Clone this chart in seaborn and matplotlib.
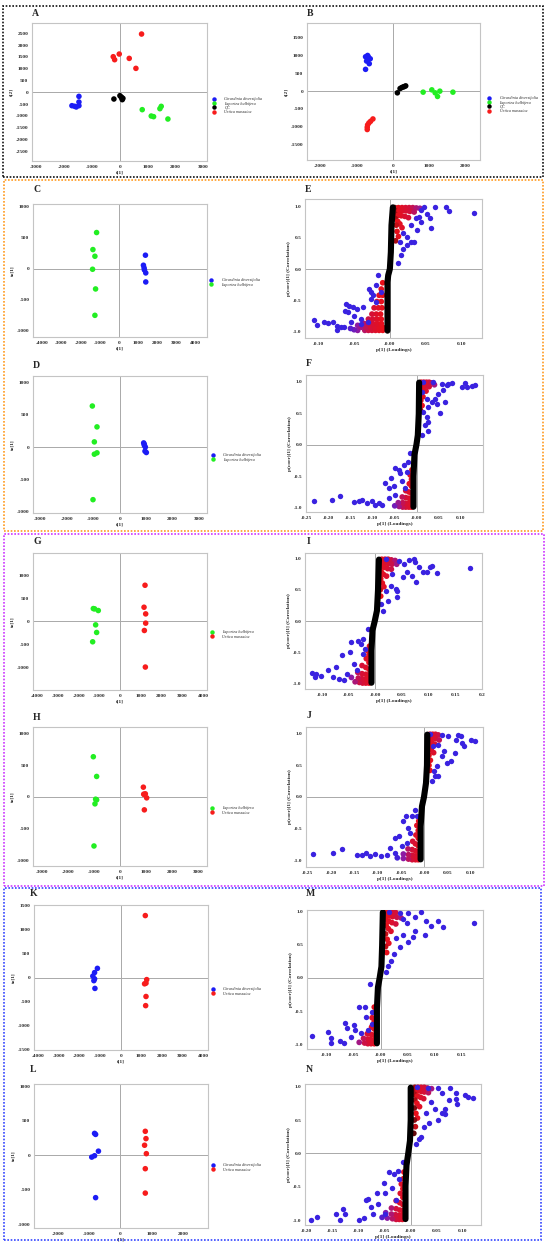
import numpy as np
import pandas as pd
import matplotlib
matplotlib.use("Agg")
import matplotlib.pyplot as plt
import seaborn as sns
from matplotlib.colors import LinearSegmentedColormap
from matplotlib.lines import Line2D
from matplotlib.patches import Rectangle

GIR = "Girardinia diversifolia"
LAP = "Laportea bulbifera"
QC = "QC"
URT = "Urtica massaica"

# ---------------- score plots ----------------
A_GIR_X = [-1473, -1473, -1473, -1570, -1725, -1630]
A_GIR_Y = [-170, -410, -565, -620, -565, -590]
A_LAP_X = [802, 1126, 1210, 1437, 1485, 1725]
A_LAP_Y = [-734, -1003, -1031, -692, -593, -1130]
A_QC_X = [-216, 0, 48, 108, 84, 60]
A_QC_Y = [-282, -141, -198, -254, -310, -226]
A_URT_X = [778, -240, -190, -24, 335, 575]
A_URT_Y = [2472, 1511, 1384, 1624, 1440, 1017]

B_GIR_X = [-756, -682, -627, -728, -654, -756, -700]
B_GIR_Y = [968, 968, 912, 847, 773, 614, 1005]
B_LAP_X = [830, 1069, 1161, 1226, 1290, 1650]
B_LAP_Y = [-28, 37, -47, -149, 0, -28]
B_QC_X = [120, 194, 240, 286, 350, 313]
B_QC_Y = [-47, 74, 102, 121, 149, 130]
B_URT_X = [-710, -710, -700, -664, -617, -553]
B_URT_Y = [-1080, -1015, -950, -894, -847, -782]

C_GIR_X = [1380, 1275, 1310, 1327, 1397, 1397]
C_GIR_Y = [216, 54, 11, -22, -70, -216]
C_LAP_X = [-1170, -1362, -1258, -1380, -1223, -1258]
C_LAP_Y = [582, 307, 199, -11, -329, -755]

D_GIR_X = [908, 933, 971, 958, 1009, 933]
D_GIR_Y = [64, 27, 0, -64, -85, 42]
D_LAP_X = [-1034, -858, -958, -858, -958, -1009]
D_LAP_Y = [637, 313, 80, -90, -111, -817]

G_LAP_X = [-1296, -1232, -1056, -1184, -1136, -1328]
G_LAP_Y = [275, 268, 232, -80, -246, -449]
G_URT_X = [1200, 1152, 1232, 1232, 1168, 1216]
G_URT_Y = [783, 304, 159, -43, -203, -1000]

H_LAP_X = [-1016, -889, -928, -889, -953, -991]
H_LAP_Y = [635, 323, -37, -48, -111, -778]
H_URT_X = [902, 940, 978, 1029, 940, 915]
H_URT_Y = [153, 37, 48, -16, -206, 42]

K_GIR_X = [-1128, -1265, -1350, -1265, -1299, -1248]
K_GIR_Y = [191, 103, 29, -29, -66, -228]
K_URT_X = [1197, 1265, 1162, 1231, 1231, 1214]
K_URT_Y = [1294, -44, -132, -118, -397, -588]

L_GIR_X = [-823, -789, -699, -823, -913, -789]
L_GIR_Y = [314, 299, 56, -10, -30, -618]
L_URT_X = [800, 822, 777, 834, 800, 800]
L_URT_Y = [344, 238, 142, 20, -198, -552]

# ---------------- S-plots: p[1] vs p(corr)[1] ----------------
E_BAND = [(0.0042, 0.985), (0.0023, 0.70), (0.0014, 0.27), (0.0, 0.0),
          (-0.0023, -0.10), (-0.0033, -0.21), (-0.0033, -0.985)]
E_CORE = [(0.007, 0.98), (0.012, 0.98), (0.017, 0.98), (0.022, 0.98), (0.027, 0.98),
          (0.032, 0.98), (0.037, 0.975), (0.042, 0.97), (0.008, 0.93), (0.013, 0.93),
          (0.018, 0.93), (0.023, 0.93), (0.028, 0.92), (0.034, 0.91), (0.008, 0.87),
          (0.012, 0.86), (0.016, 0.85), (0.021, 0.84), (0.026, 0.82), (0.008, 0.80),
          (0.011, 0.76), (0.014, 0.72), (0.017, 0.66), (0.009, 0.70), (0.010, 0.60),
          (0.012, 0.52), (0.008, 0.45),
          (-0.045, -0.98), (-0.035, -0.98), (-0.030, -0.98), (-0.025, -0.98), (-0.020, -0.98),
          (-0.015, -0.98), (-0.010, -0.98), (-0.050, -0.97), (-0.055, -0.95), (-0.045, -0.90),
          (-0.040, -0.93), (-0.033, -0.93), (-0.027, -0.93), (-0.021, -0.93), (-0.015, -0.93),
          (-0.010, -0.93), (-0.036, -0.87), (-0.030, -0.87), (-0.024, -0.87), (-0.018, -0.87),
          (-0.012, -0.87), (-0.030, -0.80), (-0.024, -0.80), (-0.018, -0.80), (-0.012, -0.80),
          (-0.025, -0.72), (-0.019, -0.72), (-0.013, -0.72), (-0.022, -0.62), (-0.016, -0.62),
          (-0.011, -0.62), (-0.018, -0.52), (-0.012, -0.52), (-0.015, -0.42), (-0.010, -0.42),
          (-0.012, -0.32), (-0.010, -0.22)]
E_EDGE = [(0.048, 0.995), (0.063, 0.995), (0.079, 0.995), (0.082, 0.925), (0.117, 0.888),
          (0.0525, 0.872), (0.056, 0.807), (0.057, 0.658), (0.043, 0.754), (0.0386, 0.62),
          (0.034, 0.433), (0.029, 0.433), (0.024, 0.38), (0.0177, 0.326), (0.0116, 0.10),
          (0.0153, 0.22), (0.0246, 0.513), (0.019, 0.567), (0.0135, 0.433), (0.029, 0.70),
          (0.036, 0.807), (0.043, 0.94), (0.041, 0.83),
          (-0.1056, -0.807), (-0.1019, -0.893), (-0.0926, -0.85), (-0.087, -0.861),
          (-0.080, -0.85), (-0.074, -0.904), (-0.074, -0.968), (-0.068, -0.93),
          (-0.061, -0.556), (-0.062, -0.663), (-0.0567, -0.583), (-0.058, -0.69),
          (-0.052, -0.61), (-0.0498, -0.743), (-0.046, -0.636), (-0.038, -0.61),
          (-0.0288, -0.316), (-0.0265, -0.369), (-0.0242, -0.422), (-0.0265, -0.476),
          (-0.0195, -0.262), (-0.0163, -0.10), (-0.0126, -0.369), (-0.0195, -0.529),
          (-0.031, -0.85), (-0.040, -0.877), (-0.064, -0.93), (-0.054, -0.85), (-0.041, -0.797)]

F_BAND = [(0.0053, 0.985), (0.0045, 0.49), (0.0023, 0.15), (-0.0008, 0.0),
          (-0.0053, -0.16), (-0.0075, -0.5), (-0.0075, -0.985)]
F_CORE = [(0.010, 0.99), (0.016, 0.99), (0.022, 0.99), (0.028, 0.99), (0.034, 0.98),
          (0.010, 0.94), (0.016, 0.94), (0.022, 0.93), (0.028, 0.92), (0.040, 0.95),
          (0.010, 0.88), (0.015, 0.87), (0.021, 0.85), (0.010, 0.80), (0.014, 0.76),
          (0.009, 0.70), (0.012, 0.62), (0.008, 0.55),
          (-0.012, -0.99), (-0.018, -0.99), (-0.025, -0.99), (-0.032, -0.99), (-0.040, -0.98),
          (-0.050, -0.97), (-0.012, -0.93), (-0.018, -0.93), (-0.025, -0.93), (-0.032, -0.92),
          (-0.042, -0.92), (-0.012, -0.86), (-0.018, -0.85), (-0.025, -0.84), (-0.033, -0.83),
          (-0.012, -0.77), (-0.018, -0.75), (-0.025, -0.73), (-0.012, -0.66), (-0.017, -0.62),
          (-0.012, -0.55), (-0.015, -0.48), (-0.011, -0.40)]
F_EDGE = [(0.015, 0.995), (0.0376, 0.995), (0.056, 0.968), (0.0714, 0.968), (0.079, 0.984),
          (0.1015, 0.915), (0.109, 0.984), (0.113, 0.915), (0.1316, 0.942), (0.124, 0.931),
          (0.0677, 0.942), (0.060, 0.863), (0.064, 0.679), (0.049, 0.81), (0.045, 0.652),
          (0.0526, 0.495), (0.034, 0.679), (0.026, 0.60), (0.026, 0.363), (0.0226, 0.442),
          (0.026, 0.216), (0.0188, 0.31), (0.0113, 0.153), (0.015, 0.52), (0.0226, 0.73),
          (0.041, 0.73), (0.0113, 0.836),
          (-0.233, -0.90), (-0.192, -0.884), (-0.173, -0.82), (-0.142, -0.91), (-0.132, -0.90),
          (-0.123, -0.884), (-0.113, -0.926), (-0.1015, -0.90), (-0.086, -0.926),
          (-0.073, -0.61), (-0.064, -0.689), (-0.058, -0.531), (-0.049, -0.373),
          (-0.041, -0.40), (-0.0376, -0.452), (-0.030, -0.32), (-0.0226, -0.426),
          (-0.0188, -0.268), (-0.049, -0.794), (-0.064, -0.847), (-0.0526, -0.663),
          (-0.034, -0.584), (-0.026, -0.689), (-0.094, -0.952), (-0.079, -0.963), (-0.015, -0.137)]

I_BAND = [(0.0067, 0.985), (0.0049, 0.49), (0.003, 0.17), (-0.0012, 0.0),
          (-0.0055, -0.15), (-0.0073, -0.47), (-0.0073, -0.985)]
I_CORE = [(0.012, 0.99), (0.018, 0.99), (0.024, 0.99), (0.030, 0.98), (0.037, 0.97),
          (0.012, 0.94), (0.018, 0.93), (0.024, 0.92), (0.031, 0.91), (0.040, 0.91),
          (0.012, 0.87), (0.017, 0.86), (0.023, 0.84), (0.030, 0.83), (0.011, 0.79),
          (0.015, 0.75), (0.021, 0.72), (0.010, 0.68), (0.013, 0.61), (0.016, 0.55),
          (0.009, 0.50), (0.010, 0.40),
          (-0.012, -0.99), (-0.018, -0.99), (-0.024, -0.99), (-0.030, -0.98), (-0.038, -0.97),
          (-0.012, -0.93), (-0.018, -0.93), (-0.025, -0.92), (-0.032, -0.91), (-0.045, -0.90),
          (-0.012, -0.86), (-0.018, -0.85), (-0.025, -0.84), (-0.033, -0.82), (-0.012, -0.77),
          (-0.018, -0.74), (-0.025, -0.71), (-0.012, -0.66), (-0.017, -0.60), (-0.012, -0.54),
          (-0.015, -0.47), (-0.011, -0.40)]
I_EDGE = [(0.020, 0.995), (0.0445, 0.968), (0.054, 0.915), (0.063, 0.979), (0.075, 0.941),
          (0.081, 0.862), (0.072, 0.995), (0.090, 0.782), (0.096, 0.782), (0.1025, 0.872),
          (0.1055, 0.888), (0.1165, 0.766), (0.1775, 0.846), (0.076, 0.622), (0.069, 0.729),
          (0.060, 0.782), (0.052, 0.702), (0.0384, 0.516), (0.0415, 0.479), (0.040, 0.383),
          (0.023, 0.33), (0.020, 0.489), (0.029, 0.569), (0.032, 0.755), (0.014, 0.17),
          (0.011, 0.277),
          (-0.119, -0.83), (-0.114, -0.894), (-0.111, -0.84), (-0.102, -0.878), (-0.088, -0.777),
          (-0.080, -0.894), (-0.074, -0.734), (-0.068, -0.92), (-0.062, -0.548), (-0.048, -0.495),
          (-0.046, -0.335), (-0.041, -0.68), (-0.032, -0.31), (-0.0275, -0.362),
          (-0.0226, -0.282), (-0.0195, -0.441), (-0.0134, -0.122), (-0.0226, -0.521),
          (-0.053, -0.84), (-0.035, -0.787), (-0.059, -0.947)]

J_BAND = [(0.0064, 0.985), (0.0057, 0.50), (0.0036, 0.22), (-0.0007, 0.0),
          (-0.005, -0.147), (-0.0079, -0.463), (-0.0079, -0.985)]
J_CORE = [(0.012, 0.99), (0.018, 0.99), (0.024, 0.99), (0.030, 0.98), (0.012, 0.94),
          (0.018, 0.93), (0.024, 0.92), (0.032, 0.90), (0.012, 0.87), (0.017, 0.85),
          (0.023, 0.83), (0.011, 0.79), (0.015, 0.74), (0.020, 0.70), (0.010, 0.66),
          (0.013, 0.58), (0.010, 0.50), (0.012, 0.42),
          (-0.013, -0.99), (-0.019, -0.99), (-0.026, -0.99), (-0.034, -0.98), (-0.045, -0.97),
          (-0.058, -0.96), (-0.013, -0.93), (-0.019, -0.93), (-0.026, -0.92), (-0.034, -0.91),
          (-0.045, -0.90), (-0.013, -0.86), (-0.019, -0.85), (-0.026, -0.83), (-0.035, -0.82),
          (-0.013, -0.77), (-0.019, -0.74), (-0.025, -0.70), (-0.013, -0.65), (-0.018, -0.60),
          (-0.013, -0.53), (-0.016, -0.45), (-0.012, -0.38)]
J_EDGE = [(0.012, 1.0), (0.037, 0.984), (0.0514, 0.957), (0.0714, 0.984), (0.0785, 0.968),
          (0.069, 0.894), (0.080, 0.852), (0.0857, 0.80), (0.101, 0.905), (0.1086, 0.878),
          (0.0657, 0.695), (0.057, 0.563), (0.043, 0.721), (0.048, 0.537), (0.037, 0.642),
          (0.0264, 0.484), (0.030, 0.326), (0.0229, 0.326), (0.0157, 0.247), (0.0214, 0.405),
          (0.019, 0.80), (0.030, 0.826),
          (-0.238, -0.895), (-0.195, -0.884), (-0.177, -0.82), (-0.145, -0.91), (-0.134, -0.91),
          (-0.126, -0.884), (-0.116, -0.926), (-0.106, -0.90), (-0.093, -0.936), (-0.081, -0.91),
          (-0.0736, -0.805), (-0.063, -0.647), (-0.054, -0.62), (-0.045, -0.384),
          (-0.040, -0.305), (-0.034, -0.489), (-0.031, -0.568), (-0.027, -0.305),
          (-0.020, -0.20), (-0.0164, -0.305), (-0.0486, -0.778), (-0.063, -0.884), (-0.038, -0.726)]

M_BAND = [(0.0039, 0.985), (0.0026, 0.49), (0.0013, 0.17), (-0.002, 0.0),
          (-0.0052, -0.143), (-0.0071, -0.46), (-0.0071, -0.985)]
M_CORE = [(0.010, 0.99), (0.016, 0.99), (0.022, 0.99), (0.028, 0.98), (0.010, 0.94),
          (0.016, 0.93), (0.022, 0.92), (0.030, 0.91), (0.038, 0.90), (0.010, 0.87),
          (0.015, 0.85), (0.021, 0.83), (0.028, 0.81), (0.010, 0.79), (0.014, 0.74),
          (0.019, 0.70), (0.009, 0.66), (0.012, 0.58), (0.015, 0.52), (0.009, 0.47),
          (0.011, 0.38),
          (-0.012, -0.99), (-0.018, -0.99), (-0.024, -0.99), (-0.030, -0.98), (-0.040, -0.97),
          (-0.012, -0.93), (-0.018, -0.93), (-0.024, -0.92), (-0.032, -0.91), (-0.012, -0.86),
          (-0.018, -0.85), (-0.025, -0.84), (-0.012, -0.77), (-0.017, -0.74), (-0.012, -0.66),
          (-0.016, -0.60), (-0.011, -0.52), (-0.012, -0.44)]
M_EDGE = [(0.0156, 0.995), (0.035, 0.979), (0.0513, 0.968), (0.064, 0.915), (0.074, 0.99),
          (0.084, 0.862), (0.0935, 0.783), (0.1065, 0.862), (0.116, 0.757), (0.173, 0.82),
          (0.082, 0.651), (0.060, 0.608), (0.0513, 0.545), (0.035, 0.466), (0.0254, 0.36),
          (0.0189, 0.254), (0.0143, 0.175), (0.0416, 0.651), (0.0286, 0.598), (0.064, 0.704),
          (0.048, 0.82), (0.0416, 0.889), (0.0091, 0.095),
          (-0.127, -0.873), (-0.098, -0.82), (-0.092, -0.91), (-0.092, -0.979), (-0.075, -0.952),
          (-0.069, -0.979), (-0.066, -0.672), (-0.0624, -0.751), (-0.049, -0.714),
          (-0.048, -0.778), (-0.0397, -0.434), (-0.030, -0.434), (-0.020, -0.09),
          (-0.0169, -0.698), (-0.0267, -0.592), (-0.0364, -0.83), (-0.056, -0.883),
          (-0.0234, -0.778), (-0.0169, -0.513)]

N_BAND = [(0.0, 0.985), (0.0, 0.50), (-0.0014, 0.19), (-0.0047, 0.0),
          (-0.0081, -0.179), (-0.010, -0.49), (-0.010, -0.985)]
N_CORE = [(0.008, 0.99), (0.014, 0.99), (0.020, 0.99), (0.026, 0.99), (0.032, 0.98),
          (0.040, 0.97), (0.008, 0.94), (0.014, 0.94), (0.020, 0.93), (0.026, 0.92),
          (0.034, 0.91), (0.008, 0.88), (0.013, 0.86), (0.019, 0.84), (0.025, 0.82),
          (0.008, 0.80), (0.012, 0.75), (0.017, 0.70), (0.007, 0.68), (0.010, 0.60),
          (0.013, 0.53), (0.007, 0.50), (0.009, 0.40), (0.006, 0.30),
          (-0.016, -0.99), (-0.022, -0.99), (-0.028, -0.99), (-0.035, -0.98), (-0.045, -0.97),
          (-0.055, -0.96), (-0.016, -0.93), (-0.022, -0.93), (-0.029, -0.92), (-0.037, -0.91),
          (-0.048, -0.89), (-0.015, -0.86), (-0.021, -0.85), (-0.028, -0.83), (-0.037, -0.82),
          (-0.015, -0.77), (-0.021, -0.74), (-0.028, -0.71), (-0.015, -0.66), (-0.020, -0.60),
          (-0.015, -0.53), (-0.018, -0.46), (-0.014, -0.38), (-0.013, -0.28)]
N_EDGE = [(0.0122, 0.99), (0.0324, 0.98), (0.0527, 0.98), (0.076, 0.98), (0.0865, 0.90),
          (0.0865, 0.82), (0.088, 0.742), (0.1034, 0.873), (0.110, 0.847), (0.120, 0.83),
          (0.066, 0.663), (0.066, 0.584), (0.0595, 0.61), (0.0527, 0.505), (0.046, 0.663),
          (0.0358, 0.452), (0.0257, 0.40), (0.019, 0.252), (0.0156, 0.216), (0.0108, 0.137),
          (0.029, 0.61), (0.039, 0.768), (0.073, 0.795), (0.0595, 0.90),
          (-0.192, -0.994), (-0.18, -0.958), (-0.143, -0.915), (-0.136, -0.994), (-0.13, -0.836),
          (-0.126, -0.915), (-0.099, -0.994), (-0.089, -0.968), (-0.086, -0.705),
          (-0.0825, -0.679), (-0.0757, -0.81), (-0.0655, -0.60), (-0.062, -0.757),
          (-0.052, -0.442), (-0.0487, -0.60), (-0.042, -0.284), (-0.0318, -0.31),
          (-0.035, -0.521), (-0.025, -0.258), (-0.0216, -0.389), (-0.0149, -0.126),
          (-0.072, -0.915), (-0.0487, -0.915), (-0.028, -0.705)]

E_XTICKS = [-0.10, -0.05, 0.0, 0.05, 0.10]
E_XLABELS = ["-0.10", "-0.05", "-0.00", "0.05", "0.10"]
F_XTICKS = [-0.25, -0.20, -0.15, -0.10, -0.05, 0.0, 0.05, 0.10]
F_XLABELS = ["-0.25", "-0.20", "-0.15", "-0.10", "-0.05", "-0.00", "0.05", "0.10"]
I_XTICKS = [-0.10, -0.05, 0.0, 0.05, 0.10, 0.15, 0.2]
I_XLABELS = ["-0.10", "-0.05", "-0.00", "0.05", "0.10", "0.15", "0.2"]
M_XTICKS = [-0.10, -0.05, 0.0, 0.05, 0.10, 0.15]
M_XLABELS = ["-0.10", "-0.05", "-0.00", "0.05", "0.10", "0.15"]
N_XTICKS = [-0.20, -0.15, -0.10, -0.05, 0.0, 0.05, 0.10]
N_XLABELS = ["-0.20", "-0.15", "-0.10", "-0.05", "-0.00", "0.05", "0.10"]
S_YTICKS = [-1.0, -0.5, 0.0, 0.5, 1.0]

PALETTE = {GIR: "#1c1cf5", LAP: "#22ee22", QC: "#000000", URT: "#f71c1c"}
EDGE_BLUE = "#3a22e0"
SPINE = "#c4c4c4"
ZERO = "#a9a9a9"
S_CMAP = LinearSegmentedColormap.from_list(
    "splot", [(0.0, "black"), (0.12, "#e8101a"), (0.45, "#d2103c"),
              (0.75, "#8a1aa8"), (1.0, "#3a22e0")])

sns.set_style("white")
plt.rcParams["font.family"] = ["Liberation Serif", "DejaVu Serif"]
plt.rcParams["font.weight"] = "bold"

W, H = 550, 1244
fig = plt.figure(figsize=(W / 100, H / 100), dpi=100)
fig.patch.set_facecolor("white")


def px_axes(l, t, r, b):
    return fig.add_axes([l / W, 1 - b / H, (r - l) / W, (b - t) / H])


def style(ax, xlim, ylim, xticks, yticks, xlabels, ylabels, xlabel, ylabel):
    ax.set_xlim(xlim)
    ax.set_ylim(ylim)
    ax.set_xticks(xticks)
    ax.set_xticklabels(xlabels)
    ax.set_yticks(yticks)
    ax.set_yticklabels(ylabels)
    ax.tick_params(labelsize=3.8, length=1.0, width=0.4, color=SPINE, pad=1.6)
    for s in ax.spines.values():
        s.set_color(SPINE)
        s.set_linewidth(0.8)
    ax.set_xlabel(xlabel, fontsize=3.9, fontweight="bold", labelpad=1.5)
    ax.set_ylabel(ylabel, fontsize=3.9, fontweight="bold", labelpad=1.5)
    ax.axhline(0, color=ZERO, lw=0.7, zorder=1)
    ax.axvline(0, color=ZERO, lw=0.7, zorder=1)


def score_panel(rect, groups, xlim, ylim, xticks, yticks, ylabel, legend_xy):
    ax = px_axes(*rect)
    rows = []
    for name, xs, ys in groups:
        rows += [(name, x, y) for x, y in zip(xs, ys)]
    df = pd.DataFrame(rows, columns=["group", "x", "y"])
    order = [g[0] for g in groups]
    sns.scatterplot(data=df, x="x", y="y", hue="group", hue_order=order,
                    palette=PALETTE, s=16, linewidth=0, legend=False, ax=ax, zorder=3)
    style(ax, xlim, ylim, xticks, yticks,
          [str(v) for v in xticks], [str(v) for v in yticks], "t[1]", ylabel)
    handles = [Line2D([], [], marker="o", ls="", color=PALETTE[g], markersize=3.2,
                      markeredgewidth=0) for g in order]
    lx, ly = legend_xy
    fig.legend(handles, order, loc="upper left",
               bbox_to_anchor=((lx - 2) / W, 1 - (ly - 2.6) / H),
               frameon=False, handlelength=0.8, handletextpad=2.2,
               labelspacing=0.05, borderpad=0, borderaxespad=0,
               prop={"size": 3.0, "style": "italic", "weight": "normal"})
    return ax


def s_panel(rect, band, core, edge, xlim, ylim, xticks, xlabels):
    ax = px_axes(*rect)
    cx, cy = map(np.array, zip(*core))
    df = pd.DataFrame({"x": cx, "y": cy, "w": np.abs(cx)})
    sns.scatterplot(data=df, x="x", y="y", hue="w", palette=S_CMAP,
                    hue_norm=(0.003, 0.06), s=17, linewidth=0, legend=False,
                    ax=ax, zorder=3)
    ex, ey = zip(*edge)
    sns.scatterplot(x=list(ex), y=list(ey), color=EDGE_BLUE, s=15, linewidth=0,
                    ax=ax, zorder=4)
    bx, by = zip(*band)
    ax.plot(bx, by, color="black", lw=4.4, solid_capstyle="round",
            solid_joinstyle="round", zorder=5)
    style(ax, xlim, ylim, xticks, S_YTICKS, xlabels,
          [f"{v:.1f}" for v in S_YTICKS], "p[1] (Loadings)", "p(corr)[1] (Correlation)")
    return ax


def letter(x, y, s):
    fig.text(x / W, 1 - y / H, s, fontsize=7, fontweight="bold", va="center", ha="left")


# ---- row A / B ----
score_panel((32, 23, 207, 161),
            [(GIR, A_GIR_X, A_GIR_Y), (LAP, A_LAP_X, A_LAP_Y), (QC, A_QC_X, A_QC_Y),
             (URT, A_URT_X, A_URT_Y)],
            (-3160, 3130), (-2910, 2940), list(range(-3000, 3001, 1000)),
            list(range(-2500, 2501, 500)), "t[2]", (214, 100))
score_panel((307, 23, 480, 160),
            [(GIR, B_GIR_X, B_GIR_Y), (LAP, B_LAP_X, B_LAP_Y), (QC, B_QC_X, B_QC_Y),
             (URT, B_URT_X, B_URT_Y)],
            (-2369, 2396), (-1937, 1918), list(range(-2000, 2001, 1000)),
            list(range(-1500, 1501, 500)), "t[2]", (489, 99))

# ---- rows C/E, D/F ----
score_panel((33, 204, 207, 337), [(GIR, C_GIR_X, C_GIR_Y), (LAP, C_LAP_X, C_LAP_Y)],
            (-4490, 4594), (-1105, 1043), list(range(-4000, 4001, 1000)),
            list(range(-1000, 1001, 500)), "to[1]", (211, 281))
s_panel((305, 199, 482, 338), E_BAND, E_CORE, E_EDGE,
        (-0.1186, 0.1288), (-1.102, 1.118), E_XTICKS, E_XLABELS)
score_panel((33, 376, 207, 513), [(GIR, D_GIR_X, D_GIR_Y), (LAP, D_LAP_X, D_LAP_Y)],
            (-3279, 3304), (-1024, 1103), list(range(-3000, 3001, 1000)),
            list(range(-1000, 1001, 500)), "to[1]", (213, 456))
s_panel((306, 375, 483, 512), F_BAND, F_CORE, F_EDGE,
        (-0.251, 0.150), (-1.068, 1.105), F_XTICKS, F_XLABELS)

# ---- rows G/I, H/J ----
score_panel((33, 553, 207, 690), [(LAP, G_LAP_X, G_LAP_Y), (URT, G_URT_X, G_URT_Y)],
            (-4208, 4192), (-1500, 1486), list(range(-4000, 4001, 1000)),
            list(range(-1000, 1001, 500)), "to[1]", (212, 633))
s_panel((305, 553, 482, 689), I_BAND, I_CORE, I_EDGE,
        (-0.132, 0.2), (-1.085, 1.09), I_XTICKS, I_XLABELS)
score_panel((33, 727, 207, 866), [(LAP, H_LAP_X, H_LAP_Y), (URT, H_URT_X, H_URT_Y)],
            (-3329, 3342), (-1095, 1106), list(range(-3000, 3001, 1000)),
            list(range(-1000, 1001, 500)), "to[1]", (212, 809))
s_panel((306, 727, 483, 867), J_BAND, J_CORE, J_EDGE,
        (-0.254, 0.126), (-1.105, 1.105), F_XTICKS, F_XLABELS)

# ---- rows K/M, L/N ----
score_panel((34, 905, 208, 1050), [(GIR, K_GIR_X, K_GIR_Y), (URT, K_URT_X, K_URT_Y)],
            (-4205, 4240), (-1515, 1515), list(range(-4000, 4001, 1000)),
            list(range(-1500, 1501, 500)), "to[1]", (213, 990))
s_panel((307, 910, 483, 1049), M_BAND, M_CORE, M_EDGE,
        (-0.137, 0.19), (-1.07, 1.02), M_XTICKS, M_XLABELS)
score_panel((34, 1084, 208, 1228), [(GIR, L_GIR_X, L_GIR_Y), (URT, L_URT_X, L_URT_Y)],
            (-2760, 2806), (-1058, 1030), list(range(-2000, 2001, 1000)),
            list(range(-1000, 1001, 500)), "to[1]", (213, 1166))
s_panel((305, 1084, 481, 1225), N_BAND, N_CORE, N_EDGE,
        (-0.203, 0.135), (-1.074, 1.04), N_XTICKS, N_XLABELS)

# panel letters
for x, y, s in [(32, 13, "A"), (307, 13, "B"), (33, 189, "C"), (305, 189, "E"),
                (33, 365, "D"), (306, 364, "F"), (33, 542, "G"), (307, 542, "I"),
                (33, 717, "H"), (307, 716, "J"), (30, 893, "K"), (306, 893, "M"),
                (30, 1069, "L"), (306, 1069, "N")]:
    letter(x, y, s)

# dotted group frames
for (l, t, r, b), c in [((3, 6, 543, 177), "#111111"), ((4, 180, 543, 531), "#ff9a1f"),
                        ((4, 534, 544, 886), "#cc33ff"), ((4, 888, 541, 1240), "#3344ff")]:
    fig.add_artist(Rectangle((l / W, 1 - b / H), (r - l) / W, (b - t) / H,
                             transform=fig.transFigure, fill=False, edgecolor=c,
                             lw=1.2, ls=(0, (1, 1))))

fig.savefig("out.png", dpi=100)
plt.close(fig)
